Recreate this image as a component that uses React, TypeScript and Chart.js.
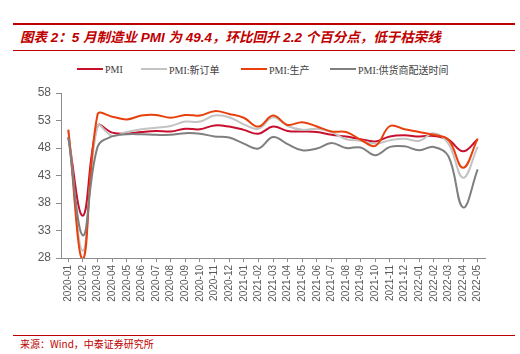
import React, { useEffect, useRef } from "react";
import { Chart, registerables } from "chart.js";

Chart.register(...registerables);

const categories = [
  "2020-01","2020-02","2020-03","2020-04","2020-05","2020-06","2020-07","2020-08","2020-09","2020-10","2020-11","2020-12",
  "2021-01","2021-02","2021-03","2021-04","2021-05","2021-06","2021-07","2021-08","2021-09","2021-10","2021-11","2021-12",
  "2022-01","2022-02","2022-03","2022-04","2022-05",
];

const pmi = [50.0, 35.7, 52.0, 50.8, 50.6, 50.9, 51.1, 51.0, 51.5, 51.4, 52.1, 51.9, 51.3, 50.6, 51.9, 51.1, 51.0, 50.9, 50.4, 50.1, 49.6, 49.2, 50.1, 50.3, 50.1, 50.2, 49.5, 47.4, 49.6];
const newOrders = [51.4, 29.3, 52.0, 50.2, 50.9, 51.4, 51.7, 52.0, 52.8, 52.8, 53.9, 53.6, 52.3, 51.5, 53.6, 52.0, 51.3, 51.5, 50.9, 49.6, 49.3, 48.8, 49.4, 49.7, 49.3, 50.7, 48.8, 42.6, 48.2];
const production = [51.3, 27.8, 54.1, 53.7, 53.2, 53.9, 54.0, 53.5, 54.0, 53.9, 54.7, 54.2, 53.5, 51.9, 53.9, 52.2, 52.7, 51.9, 51.0, 50.9, 49.5, 48.4, 52.0, 51.4, 50.9, 50.4, 49.5, 44.4, 49.7];
const supplierDelivery = [49.9, 32.1, 48.2, 50.1, 50.5, 50.5, 50.4, 50.4, 50.7, 50.6, 50.1, 49.9, 48.8, 47.9, 50.0, 48.7, 47.6, 47.9, 48.9, 48.0, 48.1, 46.7, 48.2, 48.3, 47.6, 48.2, 46.5, 37.2, 44.1];

const yTicks = [28, 33, 38, 43, 48, 53, 58];

const seriesNames = ["PMI", "PMI:新订单", "PMI:生产", "PMI:供货商配送时间"];
const seriesColors = ["#C8102E", "#C3C3C3", "#E8400C", "#7F7F7F"];

const titleText = "图表 2：5 月制造业 PMI 为 49.4，环比回升 2.2 个百分点，低于枯荣线";
const sourceText = "来源：Wind，中泰证券研究所";

const RED = "#C00000";
const legendLefts = [77, 141, 241, 330];

export default function App() {
  const canvasRef = useRef<HTMLCanvasElement | null>(null);

  useEffect(() => {
    if (!canvasRef.current) return;
    const seriesData = [pmi, newOrders, production, supplierDelivery];
    const chart = new Chart(canvasRef.current, {
      type: "line",
      data: {
        labels: categories,
        datasets: seriesData.map((d, i) => ({
          label: seriesNames[i],
          data: d,
          borderColor: seriesColors[i],
          backgroundColor: seriesColors[i],
          borderWidth: 2,
          pointRadius: 0,
          tension: 0.4,
          fill: false,
          order: seriesData.length - i,
        })),
      },
      options: {
        animation: false,
        responsive: false,
        maintainAspectRatio: false,
        layout: { padding: { top: 13, left: 0, right: 35, bottom: 0 } },
        plugins: {
          legend: { display: false },
          tooltip: { enabled: false },
        },
        scales: {
          x: {
            type: "category",
            offset: true,
            grid: {
              display: true,
              drawOnChartArea: false,
              drawTicks: true,
              tickLength: 4,
              color: "#8C8C8C",
            },
            border: { display: true, color: "#8C8C8C", width: 1 },
            ticks: {
              autoSkip: false,
              minRotation: 90,
              maxRotation: 90,
              padding: 3,
              color: "#595959",
              font: { family: "'Liberation Sans', Arial, sans-serif", size: 10 },
            },
            afterFit: (scale: any) => {
              scale.height = 50;
            },
          },
          y: {
            min: 28,
            max: 58,
            grid: {
              display: true,
              drawOnChartArea: false,
              drawTicks: true,
              tickLength: 5,
              color: "#8C8C8C",
            },
            border: { display: true, color: "#8C8C8C", width: 1 },
            ticks: {
              padding: 5,
              color: "#595959",
              font: { family: "'Liberation Sans', Arial, sans-serif", size: 12 },
            },
            afterBuildTicks: (scale: any) => {
              scale.ticks = yTicks.map((v) => ({ value: v }));
            },
            afterFit: (scale: any) => {
              scale.width = 61;
            },
          },
        },
      },
    });
    return () => chart.destroy();
  }, []);

  return (
    <div
      style={{
        position: "fixed",
        left: 0,
        top: 0,
        width: 520,
        height: 354,
        background: "#fff",
        overflow: "hidden",
      }}
    >
      <div style={{ position: "absolute", left: 13, top: 23, width: 502, height: 2, background: RED }} />
      <div
        style={{
          position: "absolute",
          left: 20,
          top: 29,
          whiteSpace: "nowrap",
          color: RED,
          fontWeight: 700,
          fontStyle: "italic",
          fontSize: 13.5,
          lineHeight: "17px",
          fontFamily: "'Liberation Sans', 'Noto Sans CJK SC', sans-serif",
        }}
      >
        {titleText}
      </div>
      <div style={{ position: "absolute", left: 13, top: 50, width: 502, height: 1, background: RED }} />

      {seriesNames.map((name, i) => (
        <div
          key={name}
          style={{
            position: "absolute",
            left: legendLefts[i],
            top: 62,
            height: 14,
            display: "flex",
            alignItems: "center",
            whiteSpace: "nowrap",
            fontFamily: "'Liberation Serif', 'Times New Roman', 'Noto Sans CJK SC', serif",
            fontSize: 10,
            color: "#404040",
          }}
        >
          <span style={{ display: "inline-block", width: 26, height: 2, background: seriesColors[i], marginRight: 2 }} />
          <span>{name}</span>
        </div>
      ))}

      <canvas ref={canvasRef} width={520} height={228} style={{ position: "absolute", left: 0, top: 80, width: 520, height: 228 }} />

      <div style={{ position: "absolute", left: 13, top: 335, width: 502, height: 1, background: RED }} />
      <div
        style={{
          position: "absolute",
          left: 20,
          top: 337,
          whiteSpace: "nowrap",
          color: RED,
          fontSize: 10,
          lineHeight: "14px",
          fontFamily: "'Noto Sans CJK SC', sans-serif",
        }}
      >
        {sourceText}
      </div>
    </div>
  );
}
